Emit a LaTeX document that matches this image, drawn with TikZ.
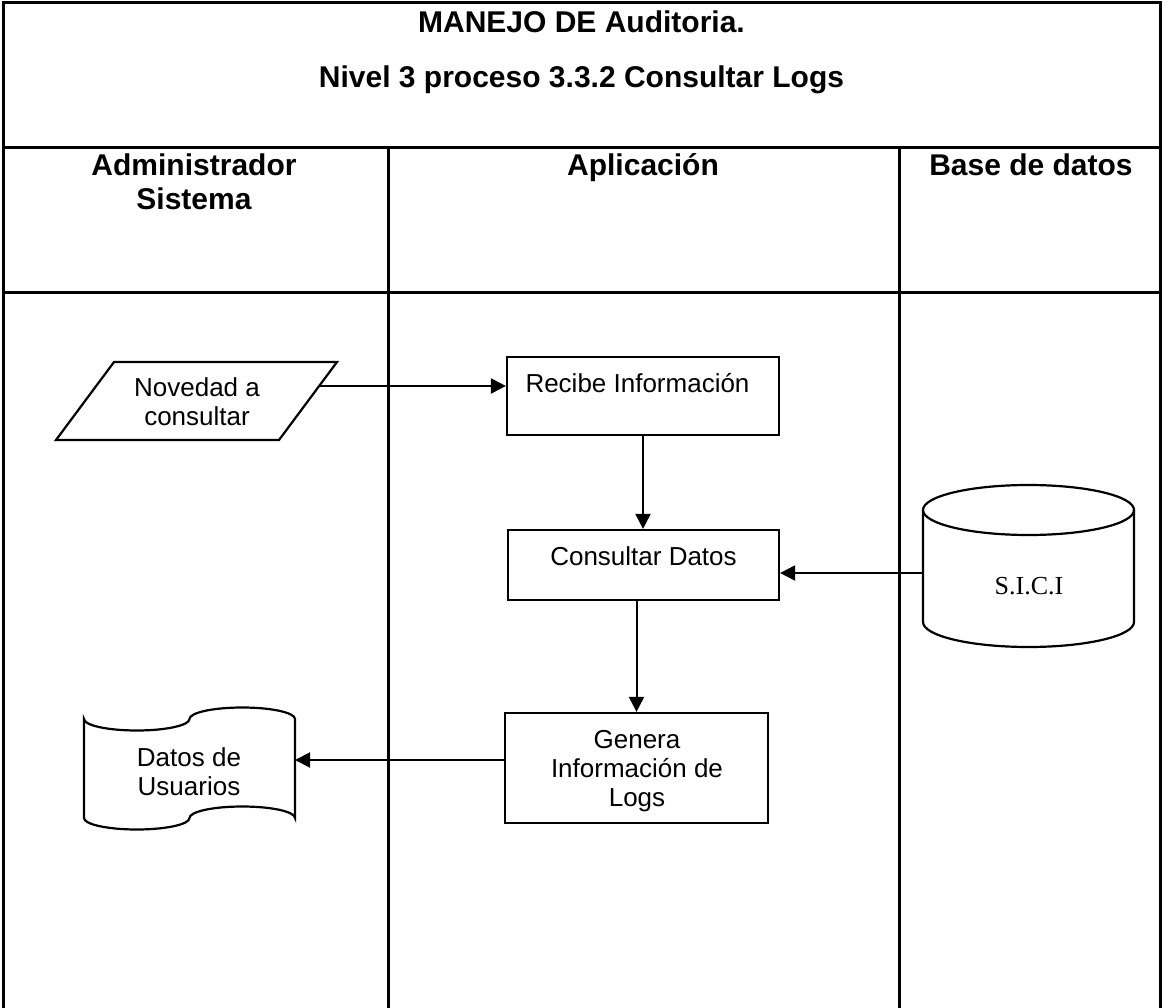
\documentclass[tikz,border=0pt]{standalone}
\usepackage{fontspec}
\setmainfont{Liberation Sans}
\newfontfamily\serifont{Liberation Serif}
\usetikzlibrary{arrows.meta}
\tikzset{
  frame/.style={line width=3pt},
  shapeline/.style={line width=2.2pt},
  box/.style={draw, line width=2.2pt, rectangle, inner sep=0pt},
  arr/.style={line width=2pt, -{Triangle[length=15pt,width=15pt]}},
  head/.style={anchor=base, inner sep=0pt, font=\fontsize{30}{34}\selectfont\bfseries},
  txt/.style={anchor=base, inner sep=0pt, font=\fontsize{26}{29}\selectfont},
  sertxt/.style={anchor=base, inner sep=0pt, font=\fontsize{26}{29}\selectfont\serifont},
}
\begin{document}
\begin{tikzpicture}[x=1pt, y=-1pt]
\useasboundingbox (0,0) rectangle (1162,1008);
% frame
\draw[frame, line join=miter] (3,1010) -- (3,3) -- (1160,3) -- (1160,1010);
\draw[frame] (3,148) -- (1160,148);
\draw[frame] (3,293) -- (1160,293);
\draw[frame] (388,148) -- (388,1010);
\draw[frame] (899,148) -- (899,1010);
% titles
\node[head] (title1) at (581.5,33) {MANEJO DE Auditoria.};
\node[head] (title2) at (581.5,88) {Nivel 3 proceso 3.3.2 Consultar Logs};
\node[head] (h1a) at (194,176) {Administrador};
\node[head] (h1b) at (194,210) {Sistema};
\node[head] (h2) at (643,176) {Aplicación};
\node[head] (h3) at (1031,176) {Base de datos};
% parallelogram
\draw[shapeline, line join=miter] (56,440) -- (279,440) -- (337,362) -- (114,362) -- cycle;
\coordinate (novR) at (319,386);
\node[txt] (nov1) at (197,396.5) {Novedad a};
\node[txt] (nov2) at (197,425.5) {consultar};
% process boxes
\node[box, minimum width=272pt, minimum height=78pt] (recibe) at (643,396) {};
\node[txt] (recibeT) at (637.5,392) {Recibe Información};
\node[box, minimum width=271pt, minimum height=70pt] (consultar) at (643.5,565) {};
\node[txt] (consultarT) at (643.5,565) {Consultar Datos};
\node[box, minimum width=263pt, minimum height=110pt] (genera) at (636.5,768) {};
\node[txt] (gen1) at (637,748) {Genera};
\node[txt] (gen2) at (637,777.5) {Información de};
\node[txt] (gen3) at (637,806) {Logs};
% database cylinder
\draw[shapeline] (923,510) -- (923,622)
  .. controls (923,635.81) and (970.23,647) .. (1028.5,647)
  .. controls (1086.77,647) and (1134,635.81) .. (1134,622) -- (1134,510);
\draw[shapeline] (1028.5,510) ellipse [x radius=105.5pt, y radius=25pt];
\coordinate (cylL) at (923,573);
\node[sertxt] (sici) at (1029,594) {S.I.C.I};
% document (punched tape)
\draw[shapeline] (84,719)
  .. controls (84,725.35) and (107.62,730.5) .. (136.75,730.5)
  .. controls (165.88,730.5) and (189.5,725.35) .. (189.5,719)
  .. controls (189.5,712.65) and (213.12,707.5) .. (242.25,707.5)
  .. controls (271.38,707.5) and (295,712.65) .. (295,719)
  -- (295,818)
  .. controls (295,811.65) and (271.38,806.5) .. (242.25,806.5)
  .. controls (213.12,806.5) and (189.5,811.65) .. (189.5,818)
  .. controls (189.5,824.35) and (165.88,829.5) .. (136.75,829.5)
  .. controls (107.62,829.5) and (84,824.35) .. (84,818)
  -- cycle;
\coordinate (docR) at (295,760);
\node[txt] (doc1) at (189,766.5) {Datos de};
\node[txt] (doc2) at (189,795) {Usuarios};
% connectors
\draw[arr] (novR) -- (recibe.west |- novR);
\draw[arr] (recibe.south) -- (recibe.south |- consultar.north);
\draw[arr] (cylL) -- (consultar.east |- cylL);
\draw[arr] (genera.north |- consultar.south) -- (genera.north);
\draw[arr] (genera.west |- docR) -- (docR);
\end{tikzpicture}
\end{document}
